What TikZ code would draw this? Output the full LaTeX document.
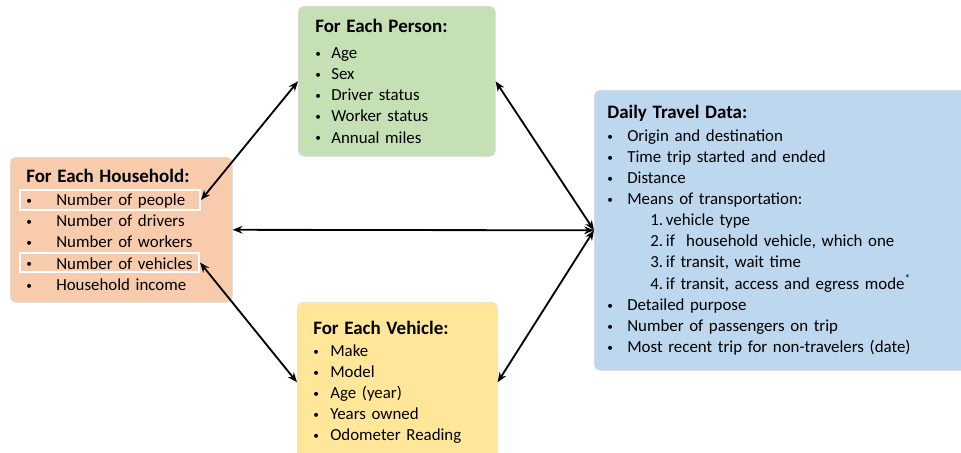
\documentclass[tikz,border=0pt]{standalone}
\usepackage{fontspec}
\setmainfont{Carlito}
\usepackage{tikz}
\usetikzlibrary{positioning,arrows.meta}
\definecolor{hhPeach}{HTML}{F8CBAD}
\definecolor{psGreen}{HTML}{C5E0B4}
\definecolor{vhYellow}{HTML}{FFE699}
\definecolor{dtBlue}{HTML}{BDD7EE}
\newcommand{\bul}[2]{\makebox[#1][l]{\raisebox{0.8pt}{\fontsize{8}{8}\selectfont\textbullet}}#2}

\begin{document}
\begin{tikzpicture}[x=0.025cm, y=-0.025cm,
    dataBox/.style={rectangle, rounded corners=4pt, draw=black!15, line width=0.4pt, anchor=north west, align=left, inner ysep=0.3cm, font=\fontsize{12}{15}\selectfont},
    hilite/.style={rectangle, draw=white, line width=1.4pt, inner sep=0pt},
    linkArrow/.style={{Stealth[length=7pt,width=5.5pt]}-{Stealth[length=7pt,width=5.5pt]}, line width=1.3pt, draw=black}
]
    \useasboundingbox (0,0) rectangle (961,453);

    \node[dataBox, fill=hhPeach, minimum width=5.55cm, minimum height=3.625cm, text width=4.75cm, inner xsep=0.4cm] (household) at (10,157) {
        {\fontsize{13.5}{15}\selectfont\bfseries For Each Household:}\\[1.5pt]
        \bul{0.75cm}{Number of people}\\
        \bul{0.75cm}{Number of drivers}\\
        \bul{0.75cm}{Number of workers}\\
        \bul{0.75cm}{Number of vehicles}\\
        \bul{0.75cm}{Household income}
    };
    \node[dataBox, fill=psGreen, minimum width=4.925cm, minimum height=3.75cm, text width=4.075cm, inner xsep=0.425cm] (person) at (298,6) {
        {\fontsize{13.5}{15}\selectfont\bfseries For Each Person:}\\[3.5pt]
        \bul{0.4cm}{Age}\\
        \bul{0.4cm}{Sex}\\
        \bul{0.4cm}{Driver status}\\
        \bul{0.4cm}{Worker status}\\
        \bul{0.4cm}{Annual miles}
    };
    \node[dataBox, fill=vhYellow, minimum width=5cm, minimum height=4cm, text width=4.2cm, inner xsep=0.4cm] (vehicle) at (297,302) {
        {\fontsize{13.5}{15}\selectfont\bfseries For Each Vehicle:}\\[1pt]
        \bul{0.425cm}{Make}\\
        \bul{0.425cm}{Model}\\
        \bul{0.425cm}{Age (year)}\\
        \bul{0.425cm}{Years owned}\\
        \bul{0.425cm}{Odometer Reading}
    };
    \node[dataBox, fill=dtBlue, minimum width=9.5cm, minimum height=7cm, text width=8.85cm, inner xsep=0.325cm] (daily) at (594,90) {
        {\fontsize{13.5}{15}\selectfont\bfseries Daily Travel Data:}\\[1pt]
        \bul{0.5cm}{Origin and destination}\\
        \bul{0.5cm}{Time trip started and ended}\\
        \bul{0.5cm}{Distance}\\
        \bul{0.5cm}{Means of transportation:}\\
        \hspace*{1.075cm}1.\,vehicle type\\
        \hspace*{1.075cm}2.\,if~ household vehicle, which one\\
        \hspace*{1.075cm}3.\,if transit, wait time\\
        \hspace*{1.075cm}4.\,if transit, access and egress mode\textsuperscript{*}\\
        \bul{0.5cm}{Detailed purpose}\\
        \bul{0.5cm}{Number of passengers on trip}\\
        \bul{0.5cm}{Most recent trip for non-travelers (date)}
    };

    % highlighted household items
    \node[hilite, minimum width=4.5cm, minimum height=0.5cm] (hhPeople) at (110,200) {};
    \node[hilite, minimum width=4.475cm, minimum height=0.475cm] (hhVehicles) at (109.5,262.5) {};

    \draw[linkArrow] (hhPeople.east) -- (person.west);
    \draw[linkArrow] (hhVehicles.east) -- (vehicle.west);
    \draw[linkArrow] (household.east) -- (daily.west);
    \draw[linkArrow] (daily.west) -- (person.east);
    \draw[linkArrow] (daily.west) -- (vehicle.east);
\end{tikzpicture}
\end{document}
